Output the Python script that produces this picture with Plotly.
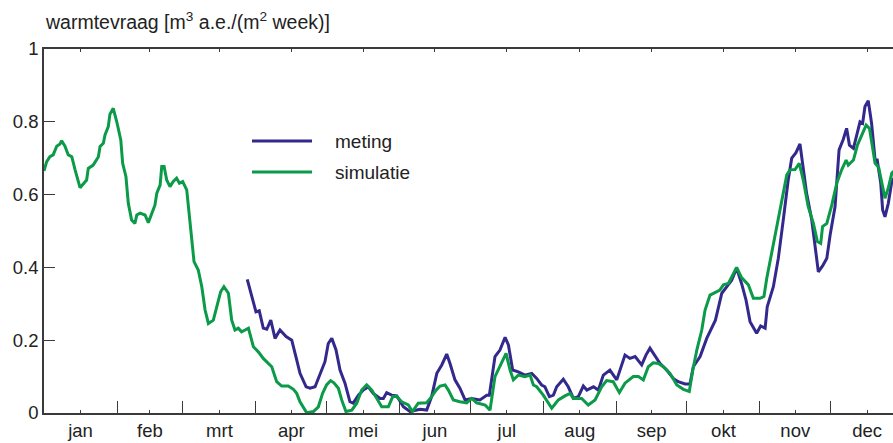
import plotly.graph_objects as go

# ---- data (day of year, weekly heat demand) ----
months = ["jan", "feb", "mrt", "apr", "mei", "jun", "jul", "aug", "sep", "okt", "nov", "dec"]
month_len = [31, 28, 31, 30, 31, 30, 31, 31, 30, 31, 30, 31]

sim_day = [0, 1.1, 2.5, 3.9, 5.4, 6.8, 7.5, 8.9, 10.3, 11.8, 13.2, 15.3, 18.1, 18.8, 20.9, 23.1,
           23.8, 25.2, 25.9, 27.3, 28.0, 29.4, 30.9, 32.6, 33.4, 34.8, 35.8, 37.2, 38.6, 39.4,
           40.8, 42.9, 44.3, 45.7, 47.1, 47.9, 49.3, 50.0, 51.0, 52.1, 53.5, 54.9, 56.3, 57.5,
           58.9, 60.6, 62.0, 63.7, 65.5, 67.0, 68.4, 69.8, 71.9, 73.3, 75.0, 76.4, 78.3, 79.7,
           81.1, 82.5, 83.9, 85.4, 86.8, 88.9, 91.0, 93.1, 94.6, 96.7, 98.8, 100.9, 103.7,
           105.9, 107.3, 108.7, 111.5, 114.4, 116.5, 118.3, 120.0, 121.7, 123.1, 125.0, 126.4,
           128.2, 130.7, 132.8, 134.9, 137.0, 139.2, 141.3, 143.4, 146.2, 148.1, 149.8, 151.9,
           154.7, 156.4, 158.9, 162.5, 164.6, 166.5, 168.2, 170.3, 171.7, 173.8, 176.6, 179.5,
           181.6, 183.7, 187.3, 189.4, 191.5, 193.6, 196.2, 197.9, 199.3, 201.4, 204.2, 206.4,
           207.8, 209.2, 212.0, 215.6, 218.4, 221.2, 223.4, 224.8, 228.3, 231.1, 234.0, 236.8,
           238.9, 241.7, 244.3, 246.7, 250.2, 252.4, 254.5, 256.6, 258.7, 260.9, 263.0, 265.8,
           268.7, 271.5, 274.0, 275.5, 277.2, 279.3, 280.7, 282.8, 285.6, 287.0, 288.5, 290.6,
           294.1, 296.2, 299.1, 301.2, 304.0, 305.7, 306.9, 309.0, 311.1, 313.2, 315.4, 316.8,
           318.9, 320.7, 322.4, 324.5, 326.7, 328.4, 329.8, 330.6, 332.4, 334.5, 336.6, 338.7,
           340.6, 341.5, 343.7, 345.4, 347.2, 349.1, 350.5, 351.9, 352.9, 354.4, 355.8, 357.1,
           358.5, 360.0, 361.0]
sim_val = [0.665, 0.69, 0.704, 0.709, 0.733, 0.739, 0.748, 0.733, 0.709, 0.704, 0.668, 0.619,
           0.64, 0.672, 0.681, 0.704, 0.732, 0.741, 0.764, 0.787, 0.821, 0.837, 0.80, 0.75,
           0.686, 0.649, 0.576, 0.53, 0.521, 0.544, 0.549, 0.544, 0.523, 0.549, 0.571, 0.604,
           0.626, 0.677, 0.677, 0.64, 0.622, 0.636, 0.645, 0.631, 0.636, 0.613, 0.521, 0.416,
           0.393, 0.347, 0.283, 0.246, 0.255, 0.292, 0.333, 0.347, 0.329, 0.255, 0.228, 0.233,
           0.223, 0.228, 0.233, 0.182, 0.168, 0.150, 0.141, 0.127, 0.086, 0.074, 0.074, 0.065,
           0.054, 0.031, 0.001, 0.004, 0.017, 0.054, 0.077, 0.089, 0.083, 0.068, 0.036, 0.004,
           0.008, 0.027, 0.063, 0.077, 0.063, 0.04, 0.017, 0.017, 0.045, 0.045, 0.031, 0.022,
           0.004, 0.027, 0.028, 0.045, 0.063, 0.074, 0.077, 0.063, 0.036, 0.031, 0.028, 0.04,
           0.028, 0.022, 0.008, 0.1, 0.127, 0.164, 0.118, 0.091, 0.104, 0.1, 0.104, 0.077,
           0.072, 0.049, 0.013, 0.036, 0.047, 0.054, 0.04, 0.04, 0.022, 0.036, 0.072, 0.089,
           0.086, 0.056, 0.082, 0.1, 0.1, 0.091, 0.127, 0.138, 0.136, 0.127, 0.109, 0.077,
           0.065, 0.059, 0.118, 0.173, 0.228, 0.283, 0.324, 0.333, 0.338, 0.352, 0.356, 0.4,
           0.372, 0.352, 0.315, 0.315, 0.32, 0.37, 0.439, 0.512, 0.576, 0.654, 0.668, 0.669,
           0.686, 0.64, 0.567, 0.521, 0.471, 0.466, 0.512, 0.521, 0.571, 0.631, 0.668, 0.695,
           0.681, 0.695, 0.736, 0.764, 0.791, 0.782, 0.731, 0.686, 0.675, 0.631, 0.59, 0.618,
           0.659, 0.665]

meas_day = [86.3, 88.2, 90.0, 91.4, 93.1, 94.6, 96.3, 98.1, 100.2, 102.8, 105.2, 107.3, 108.7,
            111.3, 113.0, 115.1, 117.2, 119.3, 120.7, 122.2, 124.0, 125.7, 127.8, 129.9, 131.3,
            133.5, 135.6, 137.7, 139.8, 142.7, 144.1, 145.5, 147.6, 149.8, 152.6, 155.4, 159.7,
            162.5, 164.6, 166.8, 168.9, 171.0, 172.4, 174.5, 176.6, 178.8, 181.6, 185.1, 188.0,
            189.1, 191.5, 193.6, 195.8, 197.2, 199.0, 201.4, 204.2, 207.1, 209.2, 211.3, 212.7,
            214.6, 216.3, 217.7, 220.5, 222.6, 224.8, 226.9, 229.0, 230.5, 233.3, 235.4, 237.5,
            240.3, 243.2, 244.6, 246.7, 248.8, 251.0, 253.8, 255.6, 257.3, 259.4, 261.6, 264.4,
            267.2, 269.3, 272.2, 274.3, 275.7, 278.6, 281.4, 285.1, 287.8, 290.2, 292.0, 294.1,
            296.2, 298.1, 299.8, 302.6, 304.3, 306.2, 307.1, 309.7, 311.8, 313.9, 316.0, 317.5,
            319.3, 321.0, 322.4, 323.8, 326.0, 327.4, 328.8, 330.6, 332.4, 333.8, 335.9, 337.6,
            339.4, 340.8, 342.0, 343.7, 346.5, 347.6, 348.6, 350.0, 351.4, 352.9, 353.8, 355.3,
            356.1, 357.1, 358.5, 360.0, 361.0]
meas_val = [0.367, 0.324, 0.278, 0.281, 0.233, 0.23, 0.255, 0.205, 0.228, 0.21, 0.2, 0.146,
            0.109, 0.072, 0.068, 0.072, 0.109, 0.141, 0.191, 0.205, 0.173, 0.118, 0.082, 0.031,
            0.027, 0.049, 0.063, 0.072, 0.054, 0.04, 0.04, 0.056, 0.049, 0.047, 0.017, 0.004,
            0.01, 0.008, 0.045, 0.109, 0.132, 0.162, 0.136, 0.091, 0.068, 0.036, 0.04, 0.036,
            0.049, 0.049, 0.155, 0.173, 0.208, 0.187, 0.118, 0.113, 0.104, 0.109, 0.095, 0.077,
            0.072, 0.045, 0.049, 0.072, 0.093, 0.072, 0.04, 0.045, 0.074, 0.063, 0.072, 0.063,
            0.104, 0.118, 0.091, 0.118, 0.159, 0.15, 0.155, 0.132, 0.159, 0.178, 0.159, 0.136,
            0.118, 0.095, 0.086, 0.08, 0.08, 0.127, 0.155, 0.205, 0.255, 0.329, 0.349, 0.365,
            0.398, 0.356, 0.31, 0.251, 0.219, 0.239, 0.233, 0.292, 0.347, 0.425, 0.53, 0.64,
            0.7, 0.715, 0.739, 0.668, 0.604, 0.53, 0.457, 0.388, 0.404, 0.425, 0.489, 0.567,
            0.723, 0.752, 0.782, 0.736, 0.727, 0.80, 0.796, 0.842, 0.858, 0.796, 0.695, 0.695,
            0.631, 0.558, 0.539, 0.576, 0.636, 0.645]

y_ticks = [0, 0.2, 0.4, 0.6, 0.8, 1]
y_ticktext = ["0", "0.2", "0.4", "0.6", "0.8", "1"]

# ---- derived calendar positions ----
month_start = [sum(month_len[:i]) for i in range(13)]
month_mid = [month_start[i] + month_len[i] / 2 for i in range(12)]

BLUE = "#33298c"
GREEN = "#0b9a48"
AX = "#3a3a3a"
FONT = "Liberation Sans, Arial, sans-serif"

fig = go.Figure()
fig.add_trace(go.Scatter(x=meas_day, y=meas_val, mode="lines", name="meting",
                         line=dict(color=BLUE, width=3), showlegend=False))
fig.add_trace(go.Scatter(x=sim_day, y=sim_val, mode="lines", name="simulatie",
                         line=dict(color=GREEN, width=3), showlegend=False))
# invisible trace to anchor top frame axis
fig.add_trace(go.Scatter(x=[0], y=[0], xaxis="x2", mode="markers",
                         marker=dict(opacity=0), showlegend=False, hoverinfo="skip"))

XMAX = 360.5
fig.update_layout(
    width=893, height=443,
    margin=dict(l=44, r=0, t=49, b=30),
    paper_bgcolor="white", plot_bgcolor="white",
    font=dict(family=FONT, size=18.5, color="#222"),
    xaxis=dict(range=[0, XMAX], showgrid=False, zeroline=False,
               showline=True, linecolor=AX, linewidth=2,
               tickmode="array", tickvals=month_mid, ticktext=months,
               ticks="inside", ticklen=3, tickcolor=AX, tickwidth=1,
               minor=dict(tickmode="array", tickvals=month_start[1:12], ticks="inside",
                          ticklen=12, tickcolor=AX, tickwidth=1.2, showgrid=False),
               tickfont=dict(size=18.5)),
    xaxis2=dict(range=[0, XMAX], overlaying="x", side="top", anchor="y",
                showgrid=False, zeroline=False, showline=True, linecolor=AX, linewidth=2,
                tickmode="array", tickvals=month_mid, ticks="inside", ticklen=3,
                tickcolor=AX, showticklabels=False),
    yaxis=dict(range=[0, 1], showgrid=False, zeroline=False,
               showline=True, linecolor=AX, linewidth=1.5,
               tickmode="array", tickvals=y_ticks, ticktext=y_ticktext,
               ticks="inside", ticklen=11, tickcolor=AX, tickwidth=1,
               tickfont=dict(size=18.5)),
    showlegend=False,
)

# title
fig.add_annotation(text="warmtevraag [m<sup>3</sup> a.e./(m<sup>2</sup> week)]",
                   xref="paper", yref="paper", x=-0.001, y=1.076,
                   xanchor="left", yanchor="middle", showarrow=False,
                   font=dict(size=19.5, color="#222"))

# manual legend
leg = [("meting", BLUE, 0.747), ("simulatie", GREEN, 0.662)]
for name, col, yy in leg:
    fig.add_shape(type="line", xref="paper", yref="paper", x0=0.245, x1=0.3157,
                  y0=yy, y1=yy, line=dict(color=col, width=3))
    fig.add_annotation(text=name, xref="paper", yref="paper", x=0.3404, y=yy,
                       xanchor="left", yanchor="middle", showarrow=False,
                       font=dict(size=19, color="#222"))

fig.write_html("out.html")
